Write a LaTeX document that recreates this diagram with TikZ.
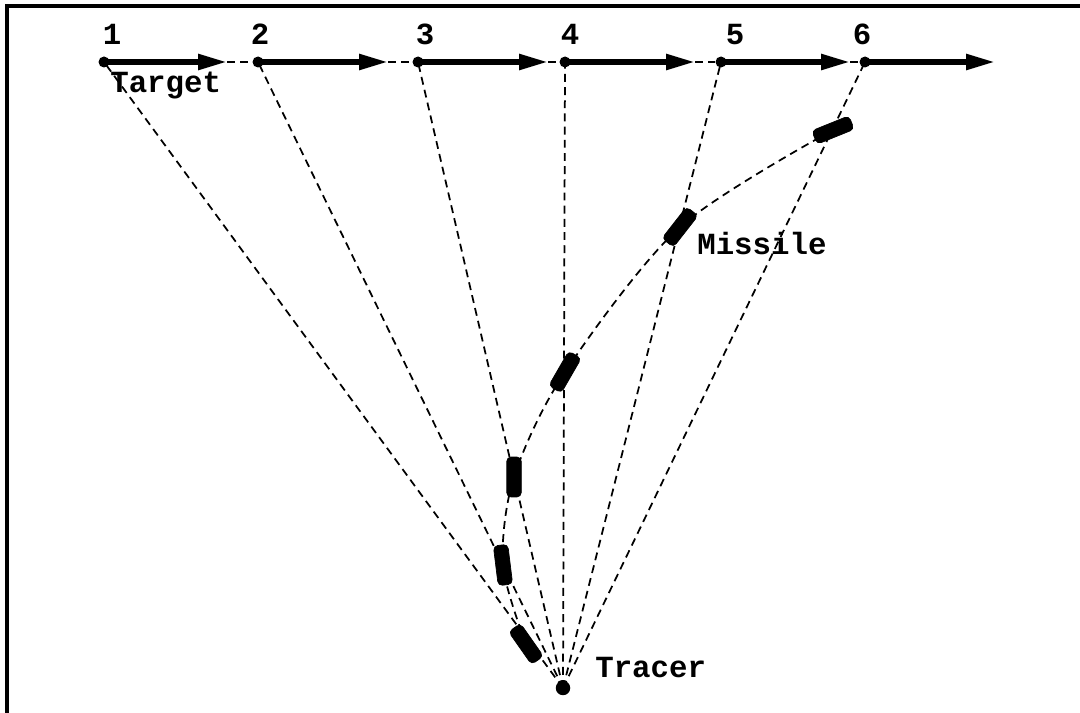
\documentclass[tikz,border=0pt]{standalone}
\usepackage{fontspec}
\setmonofont{Liberation Mono}
\usetikzlibrary{arrows.meta,positioning}

\begin{document}
\begin{tikzpicture}[
    x=0.02cm, y=-0.02cm,
    font=\ttfamily\bfseries\fontsize{17.5}{20}\selectfont,
    frame/.style={line width=0.07cm},
    spot/.style={circle, fill=black, inner sep=0pt, minimum size=0.22cm},
    move/.style={-{Triangle[length=0.58cm, width=0.3cm]}, line width=0.11cm},
    sight/.style={dash pattern=on 4.5pt off 3pt, line width=0.035cm},
    missile/.style={draw, fill=black, rounded corners=2.5pt, inner sep=0pt, minimum width=0.8cm, minimum height=0.29cm},
    lbl/.style={anchor=base west, inner sep=0pt},
    num/.style={anchor=base, inner sep=0pt}
  ]
  \useasboundingbox (0,0) rectangle (1080,713);
  \draw[frame] (7,713) -- (7,6) -- (1080,6);

  % target positions along its course
  \node[spot] (p1) at (104,62) {};
  \node[spot] (p2) at (258,62) {};
  \node[spot] (p3) at (418,62) {};
  \node[spot] (p4) at (565,62) {};
  \node[spot] (p5) at (721,62) {};
  \node[spot] (p6) at (865,62) {};
  \coordinate (t1) at (227,62);
  \coordinate (t2) at (388,62);
  \coordinate (t3) at (548,62);
  \coordinate (t4) at (695,62);
  \coordinate (t5) at (850,62);
  \coordinate (t6) at (995,62);

  \node[num] (n1) at (112,45) {1};
  \node[num] (n2) at (260,45) {2};
  \node[num] (n3) at (425,45) {3};
  \node[num] (n4) at (570,45) {4};
  \node[num] (n5) at (735,45) {5};
  \node[num] (n6) at (862,45) {6};

  \node[spot, minimum size=0.29cm] (tr) at (563,688) {};

  % missile positions on the lines of sight
  \coordinate (m1) at (526,644);
  \coordinate (m2) at (503,565);
  \coordinate (m3) at (514,477);
  \coordinate (m4) at (565,372);
  \coordinate (m5) at (680,227);
  \coordinate (m6) at (833,130);

  \foreach \i in {1,...,6}
    \draw[sight] (tr.center) -- (p\i.center);
  \draw[sight] plot[smooth] coordinates {(m1) (m2) (m3) (m4) (m5) (m6)};

  \foreach \i/\j in {1/2,2/3,3/4,4/5,5/6}
    \draw[sight] (t\i) -- (p\j);
  \foreach \i in {1,...,6}
    \draw[move] (p\i.center) -- (t\i);

  \node[missile, rotate=125] (b1) at (m1) {};
  \node[missile, rotate=97] (b2) at (m2) {};
  \node[missile, rotate=90] (b3) at (m3) {};
  \node[missile, rotate=60] (b4) at (m4) {};
  \node[missile, rotate=52] (b5) at (m5) {};
  \node[missile, rotate=22] (b6) at (m6) {};

  \node[lbl] (target) at (110,93) {Target};
  \node[lbl] (mis) at (697,255) {Missile};
  \node[lbl] (trl) at (595,677) {Tracer};
\end{tikzpicture}
\end{document}
